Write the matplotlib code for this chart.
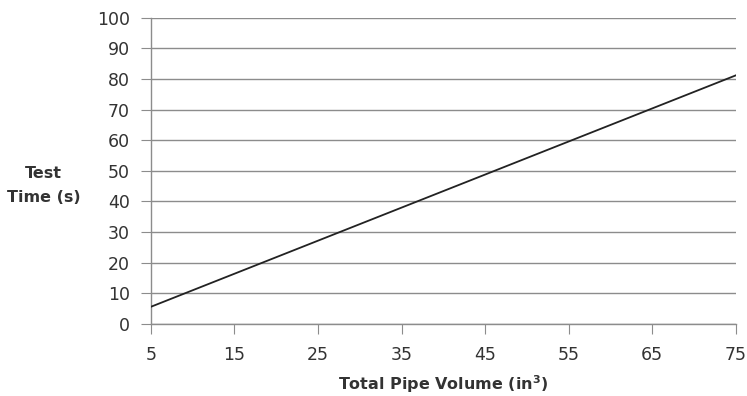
import matplotlib.pyplot as plt
import matplotlib as mpl

mpl.rcParams["font.family"] = ["DejaVu Sans"]

# === Data ===
volume = [5, 10, 15, 20, 25, 30, 35, 40, 45, 50, 55, 60, 65, 70, 75]
test_time = [5.6, 11, 16.4, 21.8, 27.2, 32.6, 38, 43.4, 48.8, 54.2, 59.6, 65, 70.4, 75.8, 81.2]
x_ticks = [5, 15, 25, 35, 45, 55, 65, 75]
y_ticks = [0, 10, 20, 30, 40, 50, 60, 70, 80, 90, 100]

text_color = "#333333"
grid_color = "#8c8c8c"

fig = plt.figure(figsize=(7.47, 3.96), dpi=100)
ax = fig.add_axes([0.202, 0.182, 0.783, 0.773])

ax.plot(volume, test_time, color="#222222", linewidth=1.3, zorder=3)

ax.set_xlim(5, 75)
ax.set_ylim(0, 100)
ax.set_xticks(x_ticks)
ax.set_yticks(y_ticks)

# horizontal gridlines only
ax.grid(True, axis="y", color=grid_color, linewidth=1.0)
ax.set_axisbelow(True)

for side in ["top", "right"]:
    ax.spines[side].set_visible(False)
for side in ["left", "bottom"]:
    ax.spines[side].set_color(grid_color)
    ax.spines[side].set_linewidth(1.0)

ax.tick_params(axis="both", direction="out", length=7, color=grid_color,
               labelsize=12.5, labelcolor=text_color)
ax.tick_params(axis="x", pad=9)
ax.tick_params(axis="y", pad=8)

fig.text(0.593, 0.03, "Total Pipe Volume (in$^\\mathbf{3}$)", ha="center", va="center",
         fontsize=11.5, fontweight="bold", color=text_color)
fig.text(0.058, 0.532, "Test\nTime (s)", ha="center", va="center",
         fontsize=11.5, fontweight="bold", color=text_color, linespacing=1.7)

fig.savefig("out.png", dpi=100)
